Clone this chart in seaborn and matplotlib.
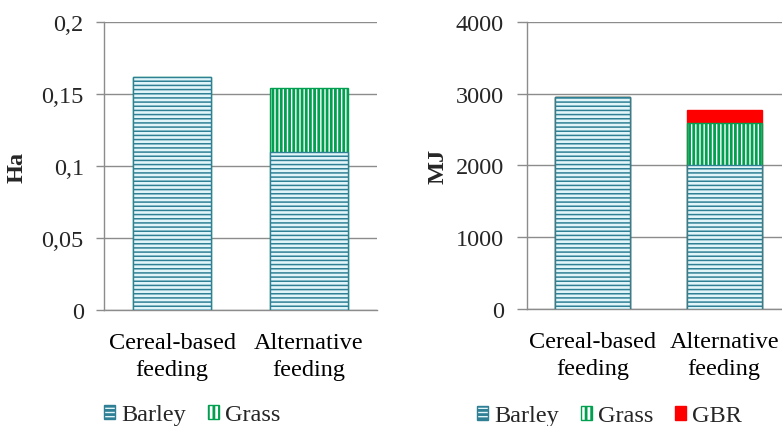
import matplotlib
matplotlib.use("Agg")
import matplotlib.pyplot as plt
from matplotlib.patches import Patch
import seaborn as sns
import pandas as pd

sns.set_theme(style="white")
plt.rcParams["font.family"] = ["Liberation Serif", "DejaVu Serif"]
plt.rcParams["hatch.linewidth"] = 1.1

# ---- data ----
categories = ["Cereal-based\nfeeding", "Alternative\nfeeding"]

area_barley = [0.162, 0.110]
area_grass = [0.0, 0.044]
area_ticks = [0, 0.05, 0.1, 0.15, 0.2]
area_tick_labels = ["0", "0,05", "0,1", "0,15", "0,2"]

energy_barley = [2950, 2000]
energy_grass = [0, 590]
energy_gbr = [0, 190]
energy_ticks = [0, 1000, 2000, 3000, 4000]
energy_tick_labels = ["0", "1000", "2000", "3000", "4000"]

# ---- styles ----
BARLEY_EDGE = "#2F7F95"
BARLEY_FACE = "#E2F6FA"
GRASS_EDGE = "#00A050"
GBR_RED = "#FF0000"
GRID = "#8C8C8C"
FS = 17.5
GRASS_LW = 2.0

fig = plt.figure(figsize=(7.82, 4.27), dpi=100)
W, H = 782, 427


def axes_px(x0, x1, ytop, ybot):
    return fig.add_axes([x0 / W, 1 - ybot / H, (x1 - x0) / W, (ybot - ytop) / H])


def stacked(ax, layers):
    """layers: list of (values, face, edge, hatch, hatch_lw) from bottom to top."""
    totals = []
    run = [0.0] * len(categories)
    for vals, *_ in layers:
        run = [r + v for r, v in zip(run, vals)]
        totals.append(list(run))
    # draw cumulative totals from the top layer down so lower layers overlay
    for (vals, face, edge, hatch, hlw), tot in reversed(list(zip(layers, totals))):
        n_before = len(ax.patches)
        df = pd.DataFrame({"cat": categories, "val": tot})
        with plt.rc_context({"hatch.linewidth": hlw}):
            sns.barplot(data=df, x="cat", y="val", color=face, saturation=1,
                        width=0.57, ax=ax, zorder=3)
            for p in ax.patches[n_before:]:
                p.set_facecolor(face)
                p.set_edgecolor(edge)
                p.set_linewidth(1.0)
                if hatch:
                    p.set_hatch(hatch)
                    if hasattr(p, "set_hatch_linewidth"):
                        p.set_hatch_linewidth(hlw)


def style_axes(ax, ticks, labels, ymax, ylabel, label_x, tick_len):
    ax.set_ylim(0, ymax)
    ax.set_xlim(-0.5, 1.5)
    ax.set_yticks(ticks)
    ax.set_yticklabels(labels, fontsize=FS)
    ax.set_xticks(range(len(categories)))
    ax.set_xticklabels(categories, fontsize=FS, linespacing=1.35)
    ax.tick_params(axis="x", length=0, pad=16, colors="#000000")
    ax.tick_params(axis="y", length=tick_len, width=1, color=GRID, pad=9,
                   direction="out", left=True)
    ax.yaxis.grid(True, color=GRID, linewidth=1)
    ax.set_axisbelow(True)
    for s in ["top", "right"]:
        ax.spines[s].set_visible(False)
    for s in ["left", "bottom"]:
        ax.spines[s].set_color(GRID)
        ax.spines[s].set_linewidth(1)
    ax.set_xlabel("")
    ax.set_ylabel(ylabel, fontsize=FS, fontweight="bold")
    ax.yaxis.set_label_coords(label_x, 0.5)


# ---- left panel: land area ----
ax1 = axes_px(104, 377, 23, 311)
stacked(ax1, [
    (area_barley, BARLEY_FACE, BARLEY_EDGE, "----", 1.1),
    (area_grass, "white", GRASS_EDGE, "||||", GRASS_LW),
])
style_axes(ax1, area_ticks, area_tick_labels, 0.2, "Ha", -0.28, 5.5)

# ---- right panel: energy ----
ax2 = axes_px(527, 790, 23, 310)
stacked(ax2, [
    (energy_barley, BARLEY_FACE, BARLEY_EDGE, "----", 1.1),
    (energy_grass, "white", GRASS_EDGE, "||||", GRASS_LW),
    (energy_gbr, GBR_RED, GBR_RED, None, 1.1),
])
style_axes(ax2, energy_ticks, energy_tick_labels, 4000, "MJ", -0.30, 7.5)

# ---- legends ----
h_barley = Patch(facecolor=BARLEY_FACE, edgecolor=BARLEY_EDGE, hatch="----", label="Barley")
with plt.rc_context({"hatch.linewidth": GRASS_LW}):
    h_grass = Patch(facecolor="white", edgecolor=GRASS_EDGE, hatch="|||", label="Grass")
h_gbr = Patch(facecolor=GBR_RED, edgecolor=GBR_RED, label="GBR")

leg_kw = dict(loc="center left", frameon=False, fontsize=FS, handlelength=0.45,
              handleheight=0.5, handletextpad=0.25, columnspacing=0.9,
              borderaxespad=0, borderpad=0)
with plt.rc_context({"hatch.linewidth": GRASS_LW}):
    fig.legend(handles=[h_barley, h_grass], ncol=2,
               bbox_to_anchor=(104 / W, 1 - 416 / H), **leg_kw)
    fig.legend(handles=[h_barley, h_grass, h_gbr], ncol=3,
               bbox_to_anchor=(477 / W, 1 - 417 / H), **leg_kw)

fig.savefig("out.png", dpi=100)
